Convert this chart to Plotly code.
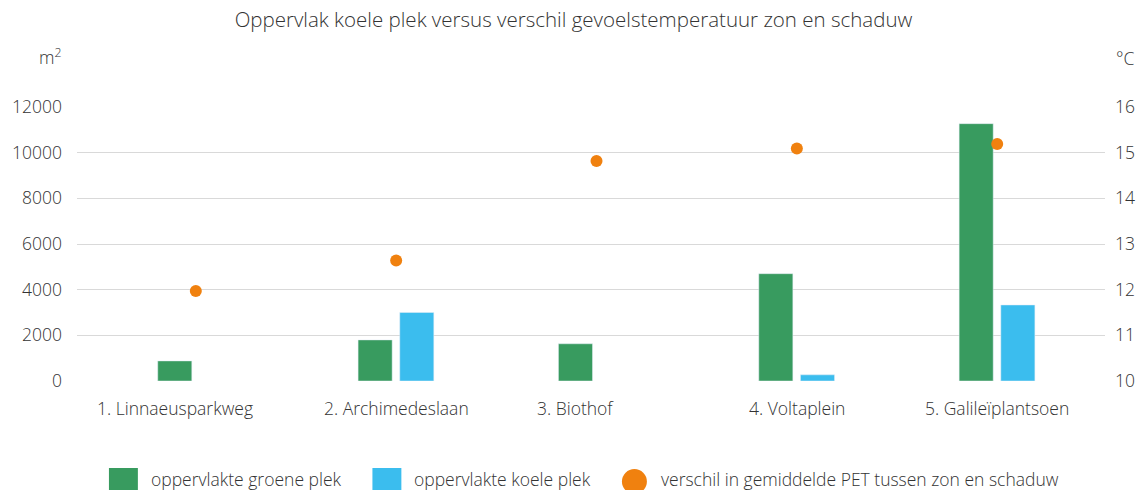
import plotly.graph_objects as go

# ---- data ----
categories = ["1. Linnaeusparkweg", "2. Archimedeslaan", "3. Biothof", "4. Voltaplein", "5. Galileïplantsoen"]
groen = [880, 1800, 1630, 4700, 11270]          # m2
koel = [None, 3000, None, 270, 3330]             # m2
pet = [11.97, 12.64, 14.82, 15.09, 15.19]        # degC
series_names = ["oppervlakte groene plek", "oppervlakte koele plek",
                "verschil in gemiddelde PET tussen zon en schaduw"]
y_ticks = [0, 2000, 4000, 6000, 8000, 10000, 12000]
y2_ticks = [10, 11, 12, 13, 14, 15, 16]
title_text = "Oppervlak koele plek versus verschil gevoelstemperatuur zon en schaduw"
y_unit = "m<sup>2</sup>"
y2_unit = "°C"

# ---- style ----
W, H = 1147, 490
L, R, T, B = 75, 42, 107, 109
PW, PH = W - L - R, H - T - B
GREEN, BLUE, ORANGE = "#389b5f", "#3bbdee", "#f0810f"
TXT = "#333333"
FONT = "Open Sans"
FS = 17.5


def fnt(size=FS):
    return dict(size=size, color=TXT, family=FONT, weight=300)


def px(x):
    return (x - L) / PW


def py(y):
    return (H - B - y) / PH


fig = go.Figure()
fig.add_trace(go.Bar(x=categories, y=groen, name=series_names[0], marker_color=GREEN,
                     width=0.17, offset=-0.19, showlegend=False))
fig.add_trace(go.Bar(x=categories, y=koel, name=series_names[1], marker_color=BLUE,
                     width=0.17, offset=0.018, showlegend=False))
fig.add_trace(go.Scatter(x=categories, y=pet, name=series_names[2], mode="markers",
                         marker=dict(color=ORANGE, size=12), yaxis="y2", showlegend=False))

annotations = []
# category labels, centered under the bars present in each group
for c, k in zip(categories, koel):
    annotations.append(dict(x=c, y=0, xref="x", yref="paper", text=c, showarrow=False,
                            xanchor="center", yanchor="middle", yshift=-27,
                            xshift=(-21 if k is None else 0), font=fnt()))
# axis units
annotations.append(dict(x=px(61), y=py(57), xref="paper", yref="paper", text=y_unit,
                        showarrow=False, xanchor="right", yanchor="middle", font=fnt()))
annotations.append(dict(x=px(1114), y=py(58), xref="paper", yref="paper", text=y2_unit,
                        showarrow=False, xanchor="left", yanchor="middle", font=fnt()))

# custom legend
shapes = []
legend_items = [
    ("rect", GREEN, 107, 136, series_names[0], 147),
    ("rect", BLUE, 371, 400, series_names[1], 411),
    ("circle", ORANGE, 621, 646, series_names[2], 658),
]
for kind, col, x0, x1, label, tx in legend_items:
    if kind == "rect":
        y0, y1 = 468, 496
    else:
        y0, y1 = 469, 494
    shapes.append(dict(type=kind, xref="paper", yref="paper", x0=px(x0), x1=px(x1),
                       y0=py(y1), y1=py(y0), fillcolor=col, line=dict(width=0), layer="above"))
    annotations.append(dict(x=px(tx), y=py(479), xref="paper", yref="paper", text=label,
                            showarrow=False, xanchor="left", yanchor="middle", font=fnt()))

fig.update_layout(
    width=W, height=H,
    margin=dict(l=L, r=R, t=T, b=B, pad=0),
    paper_bgcolor="white", plot_bgcolor="white",
    barmode="overlay",
    font=fnt(),
    title=dict(text=title_text, x=0.5, xref="container", xanchor="center", y=1 - 20 / H,
               yref="container", yanchor="middle", font=fnt(20.5)),
    xaxis=dict(type="category", range=[-0.593, 4.538], showgrid=False, showticklabels=False,
               zeroline=False, showline=False, ticks=""),
    yaxis=dict(range=[0, 12000], tickvals=y_ticks, ticktext=[str(v) for v in y_ticks],
               showgrid=True, gridcolor="#d9d9d9", gridwidth=1, zeroline=False,
               showline=False, ticks="", ticklabelstandoff=14, tickfont=fnt()),
    yaxis2=dict(range=[10, 16], tickvals=y2_ticks, overlaying="y", side="right",
                showgrid=False, zeroline=False, showline=False, ticks="",
                ticklabelstandoff=9, tickfont=fnt()),
    annotations=annotations,
    shapes=shapes,
    showlegend=False,
)

fig.write_html("out.html", config={"displayModeBar": False},
               post_script="document.body.style.margin='0';document.body.style.overflow='hidden';")
